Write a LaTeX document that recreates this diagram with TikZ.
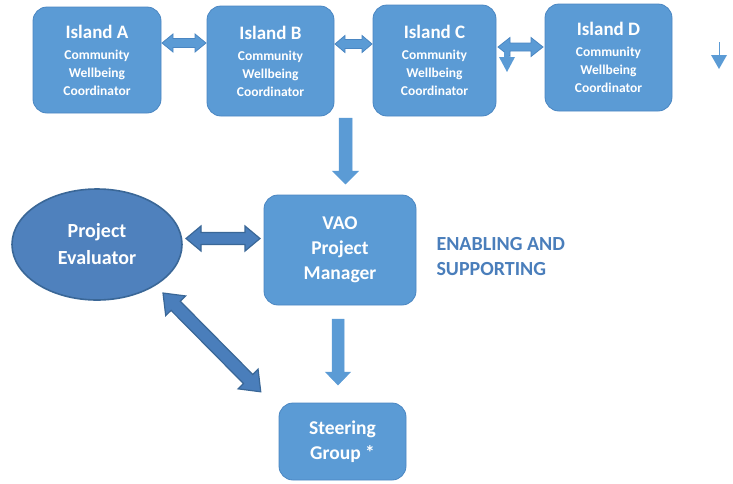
\documentclass[tikz,border=0pt]{standalone}
\usepackage{fontspec}
\setmainfont{Carlito}
\usetikzlibrary{shapes.geometric}
\definecolor{boxfill}{HTML}{5B9BD5}
\definecolor{boxline}{HTML}{4A86C2}
\definecolor{ellfill}{HTML}{4F81BD}
\definecolor{ellline}{HTML}{3A6797}
\definecolor{darkarr}{HTML}{4A7EBB}
\definecolor{darkline}{HTML}{3A6797}
\definecolor{labelblue}{HTML}{4A7EBB}
% double-headed block arrow: {opts}{(start)}{angle}{length}{shaft half}{head half}{head length}
\newcommand\dblblock[7]{%
  \draw[#1, shift={#2}, rotate=#3] (#7,-#5) -- (#4-#7,-#5) -- (#4-#7,-#6) -- (#4,0)
    -- (#4-#7,#6) -- (#4-#7,#5) -- (#7,#5) -- (#7,#6) -- (0,0) -- (#7,-#6) -- cycle;}
% single-headed block arrow
\newcommand\sglblock[7]{%
  \draw[#1, shift={#2}, rotate=#3] (0,-#5) -- (#4-#7,-#5) -- (#4-#7,-#6) -- (#4,0)
    -- (#4-#7,#6) -- (#4-#7,#5) -- (0,#5) -- cycle;}
\begin{document}
\begin{tikzpicture}[x=1pt,y=-1pt,
  island/.style={rectangle, rounded corners=14pt, fill=boxfill, draw=boxline, line width=0.8pt,
    text=white, align=center, font=\bfseries\fontsize{13.5}{18}\selectfont, inner sep=0pt},
  bigbox/.style={rectangle, rounded corners=14pt, fill=boxfill, draw=boxline, line width=0.8pt,
    text=white, align=center, font=\bfseries\fontsize{19.5}{25}\selectfont, inner sep=0pt},
  ell/.style={ellipse, fill=ellfill, draw=ellline, line width=1.6pt, text=white, align=center,
    font=\bfseries\fontsize{20}{27}\selectfont, inner sep=0pt},
  lightarr/.style={fill=boxfill, draw=boxline, line width=0.8pt, line join=miter},
  heavyarr/.style={fill=darkarr, draw=darkline, line width=1.2pt, line join=miter},
  plainarr/.style={fill=boxfill, draw=boxfill, line width=0.5pt},
]
\useasboundingbox (0,0) rectangle (733,483);

\newcommand\islandtext[1]{{\fontsize{19}{22}\selectfont #1}\\[3pt]Community\\Wellbeing\\Coordinator}

\node[island, minimum width=128pt, minimum height=106pt] (A) at (97,60) {\islandtext{Island A}};
\node[island, minimum width=127pt, minimum height=110pt] (B) at (270.5,61) {\islandtext{Island B}};
\node[island, minimum width=123pt, minimum height=111pt] (C) at (434.5,60.5) {\islandtext{Island C}};
\node[island, minimum width=127pt, minimum height=107pt] (D) at (608.5,57.5) {\islandtext{Island D}};

\node[bigbox, minimum width=152pt, minimum height=110pt] (VAO) at (340,250) {VAO\\Project\\Manager};
\node[bigbox, minimum width=127pt, minimum height=77pt] (SG) at (342.5,441.5) {Steering\\Group *};
\node[ell, minimum width=170pt, minimum height=111pt] (PE) at (97,244.5) {Project\\Evaluator};

\node[anchor=west, text=labelblue, align=left, font=\bfseries\fontsize{20}{25}\selectfont]
  (EN) at (433,257) {ENABLING AND\\SUPPORTING};

% horizontal double arrows between islands
\dblblock{lightarr}{(162,43)}{0}{44}{4.5}{9}{11}
\dblblock{lightarr}{(335,44)}{0}{37}{4.5}{8.5}{10}
\dblblock{lightarr}{(498,47)}{0}{45}{4}{9.5}{12}
% stray small arrows
\fill[boxfill] (504,52) rectangle (509,57);
\fill[boxfill] (499,57) -- (515,57) -- (507,72) -- cycle;
\draw[boxfill, line width=1pt] (719,42) -- (719,56);
\fill[boxfill] (711,55) -- (727,55) -- (719,69) -- cycle;

% vertical arrows
\sglblock{plainarr}{(345.5,118)}{-90}{66}{6.5}{13}{13}
\sglblock{plainarr}{(338,319)}{-90}{66}{6}{12.5}{13}

% heavy double arrows
\dblblock{heavyarr}{(186,238.5)}{0}{74}{6}{12.5}{15}
\dblblock{heavyarr}{(163,293)}{-45.3}{139}{6.5}{14}{18}
\end{tikzpicture}
\end{document}
